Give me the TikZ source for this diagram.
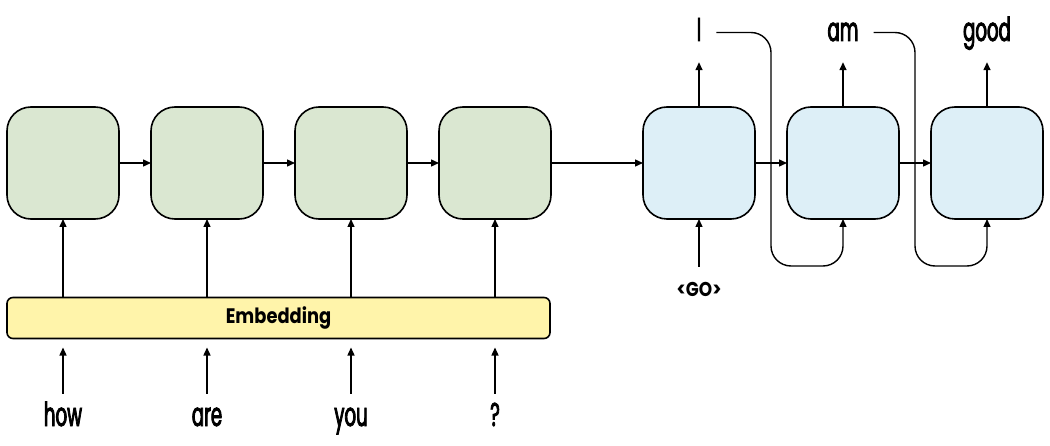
\documentclass[tikz,border=0pt]{standalone}
\usepackage{fontspec}
\usetikzlibrary{arrows.meta,calc,positioning}
\newfontfamily\wordfont[FakeStretch=0.55,FakeBold=2.5]{Poppins}
\newfontfamily\tagfont[FakeStretch=0.85]{Poppins}
\definecolor{encGreen}{HTML}{DAE7D1}
\definecolor{decBlue}{HTML}{DDEFF7}
\definecolor{embYellow}{HTML}{FFF4AA}
\tikzset{
  flow/.style={-{Triangle[length=8pt,width=7pt]}, line width=1.4pt},
  enc cell/.style={draw, line width=1.6pt, fill=encGreen, outer sep=0pt,
    rounded corners=24pt, minimum width=112pt, minimum height=112pt},
  dec cell/.style={enc cell, fill=decBlue},
  embed bar/.style={draw, line width=1.6pt, fill=embYellow, outer sep=0pt,
    rounded corners=6pt, minimum width=543pt, minimum height=41pt,
    font=\tagfont\bfseries\fontsize{21}{21}\selectfont},
  token/.style={font=\wordfont\fontsize{33}{33}\selectfont,
    inner sep=0pt, text height=23pt, text depth=6pt},
  out token/.style={token, inner xsep=15pt},
  go tag/.style={font=\tagfont\bfseries\fontsize{20}{20}\selectfont,
    inner sep=0pt, text height=13pt, text depth=0pt}
}
\begin{document}
\begin{tikzpicture}[x=1pt, y=1pt, node distance=32pt]
  \useasboundingbox (0,0) rectangle (1050,445);
  % encoder
  \node[enc cell] (enc1) at (63,282) {};
  \node[enc cell, right=of enc1] (enc2) {};
  \node[enc cell, right=of enc2] (enc3) {};
  \node[enc cell, right=of enc3] (enc4) {};
  % decoder
  \node[dec cell, right=92pt of enc4] (dec1) {};
  \node[dec cell, right=of dec1] (dec2) {};
  \node[dec cell, right=of dec2] (dec3) {};
  \node[embed bar] (embed) at (278.5,127) {Embedding};
  % inputs and outputs
  \coordinate (inbase) at (0,19);
  \coordinate (outbase) at (0,404);
  \node[token, anchor=base] (how) at (enc1 |- inbase) {how};
  \node[token, anchor=base] (are) at (enc2 |- inbase) {are};
  \node[token, anchor=base] (you) at (enc3 |- inbase) {you};
  \node[token, anchor=base] (qm) at (enc4 |- inbase) {?};
  \node[out token, anchor=base] (out1) at (dec1 |- outbase) {I};
  \node[out token, anchor=base] (out2) at (dec2 |- outbase) {am};
  \node[out token, anchor=base] (out3) at (dec3 |- outbase) {good};
  \node[go tag, anchor=base] (go) at (dec1 |- 0,148) {<GO>};
  \foreach \w/\c in {how/enc1, are/enc2, you/enc3, qm/enc4} {
    \draw[flow, shorten <=9pt, shorten >=9pt] (\w.north) -- (\w |- embed.south);
    \draw[flow] (\c |- embed.north) -- (\c.south);
  }
  \draw[flow] (enc1) -- (enc2);
  \draw[flow] (enc2) -- (enc3);
  \draw[flow] (enc3) -- (enc4);
  \draw[flow] (enc4) -- (dec1);
  \draw[flow] (dec1) -- (dec2);
  \draw[flow] (dec2) -- (dec3);
  \draw[flow, shorten <=17pt] (go.north) -- (dec1.south);
  \foreach \d/\o in {dec1/out1, dec2/out2, dec3/out3}
    \draw[flow, shorten >=15pt] (\d.north) -- (\o.south);
  % feed previous word back in
  \coordinate (loop1) at ($(dec1.south east)!0.5!(dec2.south west)+(0,-47)$);
  \coordinate (loop2) at ($(dec2.south east)!0.5!(dec3.south west)+(0,-47)$);
  \draw[flow, rounded corners=20pt] (out1.east) -| (loop1) -| (dec2.south);
  \draw[flow, rounded corners=20pt] (out2.east) -| (loop2) -| (dec3.south);
\end{tikzpicture}
\end{document}
